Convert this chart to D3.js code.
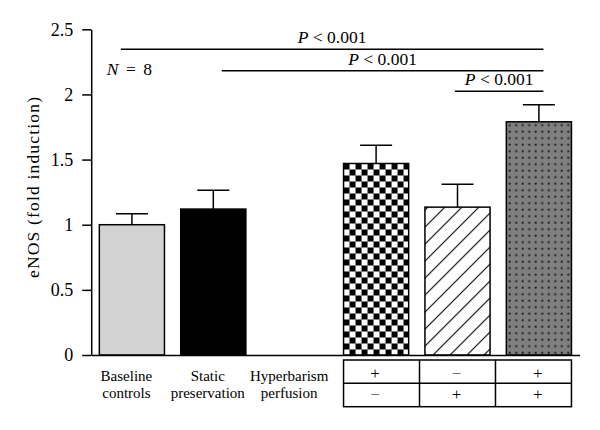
<!DOCTYPE html>
<html>
<head>
<meta charset="utf-8">
<title>eNOS fold induction</title>
<script src="https://d3js.org/d3.v7.min.js"></script>
<style>
  body { margin: 0; background: #fff; }
  svg text { font-family: "Liberation Serif", "DejaVu Serif", serif; fill: #000; }
</style>
</head>
<body>
<svg id="chart" width="600" height="430"></svg>
<script>
// groups along the x axis (third slot holds only the row headers of the table)
const groups = ["baseline", "static", "header", "hyper", "perf", "both"];
const groupLabels = [["Baseline", "controls"], ["Static", "preservation"], ["Hyperbarism", "perfusion"], null, null, null];
const means = [1.00, 1.12, null, 1.47, 1.135, 1.79];
const sems = [0.085, 0.145, null, 0.14, 0.175, 0.13];
const hyperbarismRow = ["+", "\u2212", "+"];
const perfusionRow = ["\u2212", "+", "+"];
const yTicks = [0, 0.5, 1, 1.5, 2, 2.5];
const yTickLabels = ["0", "0.5", "1", "1.5", "2", "2.5"];
// significance brackets: from/to group, position inside the band (0..1), height in y units
const brackets = [
  { from: "baseline", fromPos: 0.33, to: "both", toPos: 0.57, level: 2.346, label: "P < 0.001" },
  { from: "static", fromPos: 0.63, to: "both", toPos: 0.57, level: 2.182, label: "P < 0.001" },
  { from: "perf", fromPos: 0.46, to: "both", toPos: 0.57, level: 2.024, label: "P < 0.001" }
];
const nLabel = "N = 8";

const svg = d3.select("#chart");
const x = d3.scaleBand().domain(groups).range([91.2, 579.6]).paddingInner(0.2).paddingOuter(0.1);
const y = d3.scaleLinear().domain([0, 2.5]).range([355, 29.3]);
const bw = x.bandwidth();

// patterns
const defs = svg.append("defs");
const checker = defs.append("pattern").attr("id", "checker").attr("patternUnits", "userSpaceOnUse")
  .attr("width", 12).attr("height", 12).attr("x", x("hyper")).attr("y", y(means[3]));
checker.append("rect").attr("width", 12).attr("height", 12).attr("fill", "#fff");
checker.append("rect").attr("width", 6).attr("height", 6).attr("fill", "#000");
checker.append("rect").attr("x", 6).attr("y", 6).attr("width", 6).attr("height", 6).attr("fill", "#000");

const hatch = defs.append("pattern").attr("id", "hatch").attr("patternUnits", "userSpaceOnUse")
  .attr("width", 17).attr("height", 17).attr("x", x("perf") + 3).attr("y", y(means[4]));
hatch.append("rect").attr("width", 17).attr("height", 17).attr("fill", "#fff");
hatch.append("path").attr("d", "M0,17L17,0M-4.25,4.25L4.25,-4.25M12.75,21.25L21.25,12.75")
  .attr("stroke", "#000").attr("stroke-width", 1.1);

const dots = defs.append("pattern").attr("id", "dots").attr("patternUnits", "userSpaceOnUse")
  .attr("width", 6.5).attr("height", 6.5).attr("x", x("both")).attr("y", y(means[5]));
dots.append("rect").attr("width", 6.5).attr("height", 6.5).attr("fill", "#7f7f7f");
dots.append("rect").attr("x", 2.5).attr("y", 2.5).attr("width", 1.8).attr("height", 1.8).attr("fill", "#111");

const fills = ["#d3d3d3", "#000", "none", "url(#checker)", "url(#hatch)", "url(#dots)"];

const data = groups.map((g, i) => ({ g, mean: means[i], sem: sems[i], fill: fills[i] })).filter(d => d.mean != null);

// bars
svg.append("g").selectAll("rect").data(data).join("rect")
  .attr("x", d => x(d.g)).attr("width", bw)
  .attr("y", d => y(d.mean)).attr("height", d => y(0) - y(d.mean))
  .attr("fill", d => d.fill).attr("stroke", "#000").attr("stroke-width", 1.5);

// error bars
const eb = svg.append("g").attr("stroke", "#000").attr("stroke-width", 1.5);
eb.selectAll("line.v").data(data).join("line").attr("class", "v")
  .attr("x1", d => x(d.g) + bw / 2).attr("x2", d => x(d.g) + bw / 2)
  .attr("y1", d => y(d.mean)).attr("y2", d => y(d.mean + d.sem));
eb.selectAll("line.c").data(data).join("line").attr("class", "c")
  .attr("x1", d => x(d.g) + bw / 2 - 16).attr("x2", d => x(d.g) + bw / 2 + 16)
  .attr("y1", d => y(d.mean + d.sem)).attr("y2", d => y(d.mean + d.sem));

// axes
const yAxis = svg.append("g").attr("transform", `translate(${x.range()[0]},0)`)
  .call(d3.axisLeft(y).tickValues(yTicks).tickFormat((d, i) => yTickLabels[i]).tickSize(9).tickSizeOuter(0).tickPadding(9));
yAxis.attr("font-family", null).attr("font-size", null);
yAxis.selectAll("text").style("font-size", "18px");
yAxis.selectAll("path,line").attr("stroke-width", 1.5);

const xAxis = svg.append("g").attr("transform", `translate(0,${y(0)})`)
  .call(d3.axisBottom(x).tickValues([]).tickSizeOuter(0));
xAxis.select("path").attr("stroke-width", 1.5);

svg.append("text").attr("transform", `translate(39,187.5) rotate(-90)`)
  .attr("text-anchor", "middle").style("font-size", "17.5px")
  .attr("textLength", 181).attr("lengthAdjust", "spacing")
  .text("eNOS (fold induction)");

// group labels under the axis
const lab = svg.append("g").attr("text-anchor", "middle").style("font-size", "15px");
groups.forEach((g, i) => {
  if (!groupLabels[i]) return;
  groupLabels[i].forEach((t, k) => {
    lab.append("text").attr("x", x(g) + bw / 2 - 5.5).attr("y", 380.5 + k * 17).text(t);
  });
});

// +/- table
const tx0 = x("hyper"), tx1 = x("both") + bw;
const ty0 = 360, ty1 = 406.7, tyMid = 383.3;
const tbl = svg.append("g").attr("stroke", "#000").attr("stroke-width", 1.5).attr("fill", "none");
tbl.append("rect").attr("x", tx0).attr("y", ty0).attr("width", tx1 - tx0).attr("height", ty1 - ty0);
tbl.append("line").attr("x1", tx0).attr("x2", tx1).attr("y1", tyMid).attr("y2", tyMid);
[1, 2].forEach(k => {
  const cx = tx0 + (tx1 - tx0) * k / 3;
  tbl.append("line").attr("x1", cx).attr("x2", cx).attr("y1", ty0).attr("y2", ty1);
});
const tableGroups = ["hyper", "perf", "both"];
const signs = svg.append("g").attr("text-anchor", "middle").style("font-size", "17px");
[hyperbarismRow, perfusionRow].forEach((row, r) => {
  signs.selectAll(null).data(row).join("text")
    .attr("x", (d, i) => x(tableGroups[i]) + bw / 2 - 1)
    .attr("y", r === 0 ? 378.5 : 400)
    .style("fill", d => d === "+" ? "#000" : "#555")
    .text(d => d);
});

// significance brackets
const br = svg.append("g");
brackets.forEach(b => {
  const x1 = x(b.from) + bw * b.fromPos, x2 = x(b.to) + bw * b.toPos;
  br.append("line").attr("x1", x1).attr("x2", x2).attr("y1", y(b.level)).attr("y2", y(b.level))
    .attr("stroke", "#000").attr("stroke-width", 1.5);
  const t = br.append("text").attr("x", (x1 + x2) / 2).attr("y", y(b.level) - 6)
    .attr("text-anchor", "middle").style("font-size", "17.5px");
  t.append("tspan").style("font-style", "italic").text(b.label.slice(0, 1));
  t.append("tspan").text(b.label.slice(1));
});

// N annotation
const nt = svg.append("text").attr("x", x("baseline") + 7.5).attr("y", y(2.149))
  .style("font-size", "17.5px").style("word-spacing", "3px");
nt.append("tspan").style("font-style", "italic").text(nLabel.slice(0, 1));
nt.append("tspan").text(nLabel.slice(1));
</script>
</body>
</html>
